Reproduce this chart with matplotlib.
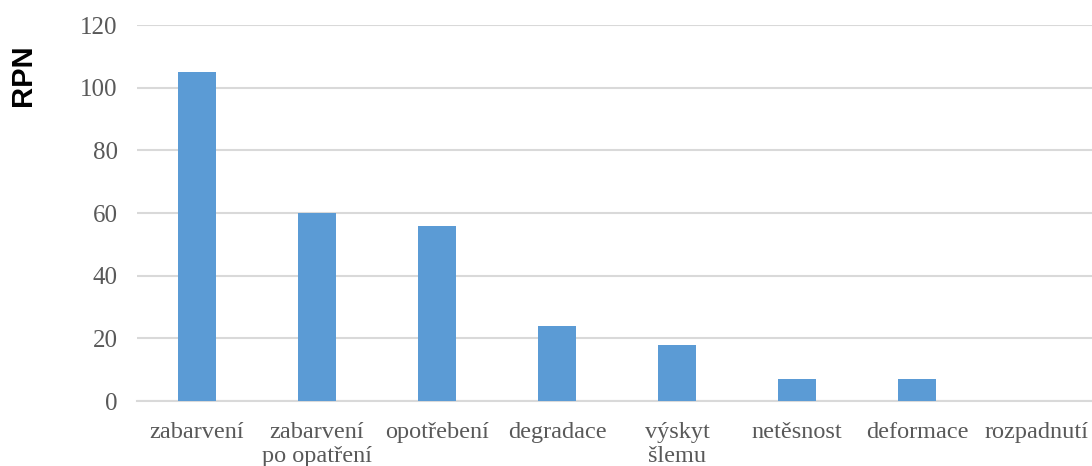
import matplotlib.pyplot as plt

# === Data
categories = ["zabarvení", "zabarvení\npo opatření", "opotřebení", "degradace",
              "výskyt\nšlemu", "netěsnost", "deformace", "rozpadnutí"]
rpn_values = [105, 60, 56, 24, 18, 7, 7, 0]
y_ticks = [0, 20, 40, 60, 80, 100, 120]

bar_color = "#5b9bd5"
grid_color = "#d9d9d9"
text_color = "#595959"

fig = plt.figure(figsize=(10.92, 4.66), dpi=100)
ax = fig.add_axes([137 / 1092, 65 / 466, (1092 - 137) / 1092, 376 / 466])

x = range(len(categories))
ax.bar(x, rpn_values, width=0.32, color=bar_color, zorder=3)

ax.set_ylim(0, 120)
ax.set_xlim(-0.5, len(categories) - 0.5 - 5 / 120)
ax.set_yticks(y_ticks)
ax.yaxis.grid(True, color=grid_color, linewidth=1.5, zorder=0)
ax.set_axisbelow(True)

for s in ["top", "right", "left"]:
    ax.spines[s].set_visible(False)
ax.spines["bottom"].set_color(grid_color)
ax.spines["bottom"].set_linewidth(1.5)

ax.set_xticks(list(x))
ax.set_xticklabels(categories, family="Liberation Serif", fontsize=17.5,
                   color=text_color, linespacing=1.2)
for lbl in ax.get_yticklabels():
    lbl.set_family("Liberation Serif")
    lbl.set_fontsize(18)
    lbl.set_color(text_color)
ax.tick_params(axis="both", length=0)
ax.tick_params(axis="y", pad=14)
ax.tick_params(axis="x", pad=15)

fig.text(23 / 1092, 1 - 75 / 466, "RPN", rotation=90, ha="center", va="center",
         family="Liberation Sans", fontweight="bold", fontsize=21)

fig.savefig("out.png", dpi=100)
